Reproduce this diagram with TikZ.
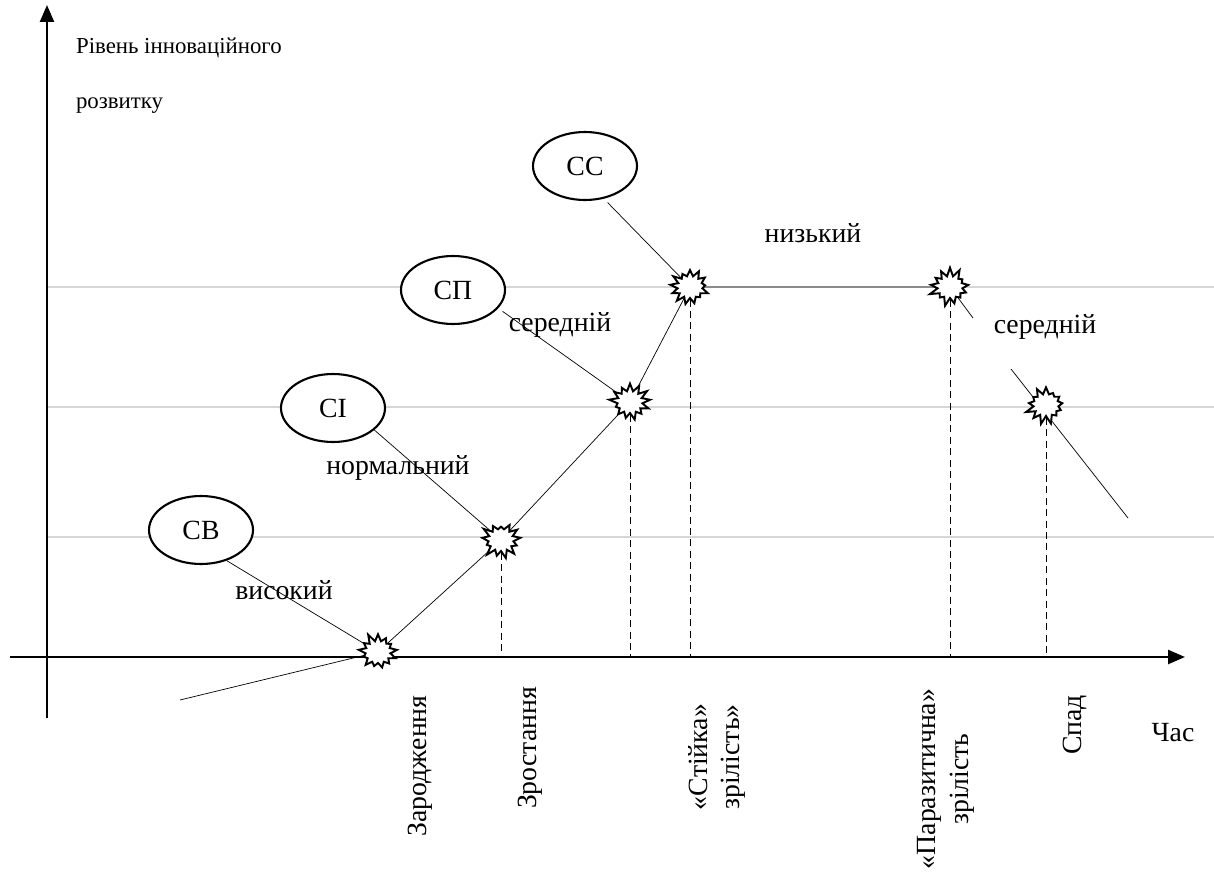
\documentclass[tikz,border=0pt]{standalone}
\usepackage{fontspec}
\setmainfont{Liberation Serif}
\usetikzlibrary{shapes.geometric,shapes.symbols,arrows.meta,backgrounds}

\tikzset{
  burst/.style={starburst, starburst points=13, starburst point height=0.18cm, draw, fill=white,
    line width=1.1pt, minimum width=0.86cm, minimum height=0.8cm, inner sep=0pt},
  stage/.style={ellipse, draw, fill=white, minimum width=2.08cm, minimum height=1.36cm, inner sep=0pt,
    font=\fontsize{15.8}{18.5}\selectfont},
  lbl/.style={font=\fontsize{15.8}{18.5}\selectfont, inner sep=0pt},
  phase/.style={lbl, rotate=90, align=center},
  gridline/.style={black!16, line width=1pt},
  drop/.style={dash pattern=on 4pt off 2.5pt},
  axis/.style={line width=1.4pt, -{Triangle[length=0.34cm,width=0.28cm]}}
}

\begin{document}
\begin{tikzpicture}[x=0.02cm, y=-0.02cm, line width=1.2pt]
\useasboundingbox (0,0) rectangle (1214,872);

% stars on the curve
\node (birth) [burst, random starburst=11] at (378,652) {};
\node (growth) [burst, random starburst=23] at (501,540) {};
\node (rise) [burst, random starburst=37] at (630,402) {};
\node (mature) [burst, random starburst=41] at (690,287) {};
\node (parasite) [burst, random starburst=53] at (950,287) {};
\node (decline) [burst, random starburst=67] at (1046,405) {};

\coordinate (start) at (180,700);
\coordinate (cut) at (973,318);
\coordinate (fall) at (1011,369);
\coordinate (fallend) at (1128,518);
\coordinate (yfoot) at (47,718);
\coordinate (ytop) at (47,5);
\coordinate (xa) at (10,657);
\coordinate (xe) at (1185,657);

% stages
\node (cb) [stage] at (201,530) {СВ};
\node (ci) [stage] at (333,408) {СІ};
\node (cp) [stage] at (453,290) {СП};
\node (cc) [stage] at (585,166) {СС};

% labels
\node (ylabel) [font=\fontsize{13}{31}\selectfont, align=left, anchor=north west, inner sep=0pt] at (75,37) {Рівень інноваційного\\розвитку};
\node (vys) [lbl] at (284,590) {високий};
\node (norm) [lbl] at (398,468) {нормальний};
\node (ser1) [lbl] at (560,325) {середній};
\node (niz) [lbl] at (813,233) {низький};
\node (ser2) [lbl] at (1045,327) {середній};
\node (chas) [lbl] at (1173,733) {Час};

\node (p1) [phase] at (420,766) {Зародження};
\node (p2) [phase] at (530,748) {Зростання};
\node (p3) [phase] at (717,757) {«Стійка»\\зрілість»};
\node (p4) [phase] at (946,779) {«Паразитична»\\зрілість};
\node (p5) [phase] at (1075,725) {Спад};

\begin{scope}[on background layer]
  \foreach \gy in {287,407,537}
    \draw[gridline] (47,\gy) -- (1214,\gy);
  \draw[axis] (yfoot) -- (ytop);
  \draw[axis] (xa) -- (xe);
  \draw (start) -- (birth.center) -- (growth.center) -- (rise.center) -- (mature.center) -- (parasite.center) -- (cut);
  \draw (fall) -- (fallend);
  \draw (cb.-50) -- (birth.center);
  \draw (ci.-28) -- (growth.center);
  \draw[shorten <=3pt] (cp.-22) -- (rise.center);
  \draw[shorten <=3pt] (cc.-60) -- (mature.center);
  \foreach \s in {growth,rise,mature,parasite,decline}
    \draw[drop] (\s.south) -- (\s.south |- xa);
\end{scope}
\end{tikzpicture}
\end{document}
